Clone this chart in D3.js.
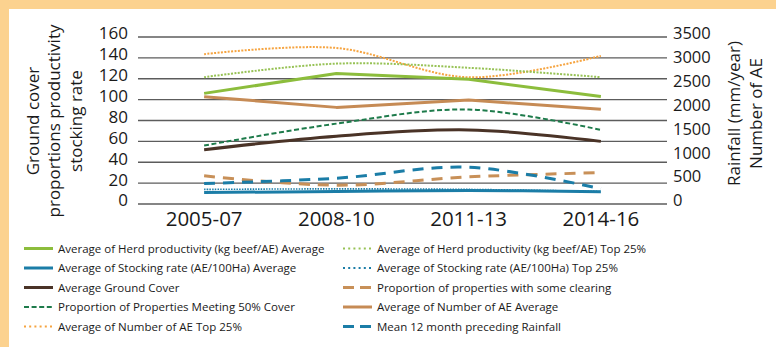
<!DOCTYPE html>
<html>
<head>
<meta charset="utf-8">
<script src="https://cdn.jsdelivr.net/npm/d3@7"></script>
<style>
  html, body { margin: 0; padding: 0; background: #fcd28f; }
  svg { display: block; font-family: "Open Sans", "Noto Sans", sans-serif; }
</style>
</head>
<body>
<svg id="chart" width="776" height="347"></svg>
<script>
// Periods on the x axis
const categories = ["2005-07", "2008-10", "2011-13", "2014-16"];

// Axis ticks
const leftTicks = [0, 20, 40, 60, 80, 100, 120, 140, 160];
const rightTicks = [0, 500, 1000, 1500, 2000, 2500, 3000, 3500];

// Left-axis series
const herdProdAvg   = [106, 125, 119.5, 103];
const herdProdTop   = [121.5, 134.5, 130.5, 121.5];
const stockRateAvg  = [11, 12, 13, 11.8];
const stockRateTop  = [14, 14.5, 14, 12];
const groundCover   = [52, 65, 71, 60];
const clearingProp  = [27, 18, 26, 30];
const coverProp     = [56, 77, 90.5, 71];

// Right-axis series
const aeAvg    = [2250, 2025, 2180, 1985];
const aeTop    = [3140, 3270, 2655, 3105];
const rainfall = [430, 540, 770, 320];

const svg = d3.select("#chart");

// white panel inside the peach frame
svg.append("rect").attr("x", 9).attr("y", 9).attr("width", 767).attr("height", 338).attr("fill", "#ffffff");

const plot = { left: 138, right: 667, top: 37, bottom: 204 };

const x = d3.scaleBand().domain(categories).range([plot.left, plot.right]).padding(0);
const xc = c => x(c) + x.bandwidth() / 2;
const yL = d3.scaleLinear().domain([0, 160]).range([plot.bottom, plot.top]);
const yR = d3.scaleLinear().domain([0, 3500]).range([plot.bottom, plot.top]);

// gridlines
svg.append("g").selectAll("line").data(leftTicks).join("line")
  .attr("x1", plot.left).attr("x2", plot.right)
  .attr("y1", d => yL(d)).attr("y2", d => yL(d))
  .attr("stroke", "#5c5c5c").attr("stroke-width", 1.4);

// left tick labels
svg.append("g").selectAll("text").data(leftTicks).join("text")
  .attr("x", 128).attr("y", d => yL(d) - 3.5).attr("dy", "0.35em")
  .attr("text-anchor", "end").attr("font-size", 17).attr("fill", "#1a1a1a")
  .text(d => d);

// right tick labels
svg.append("g").selectAll("text").data(rightTicks).join("text")
  .attr("x", 673).attr("y", d => yR(d) - 3.5).attr("dy", "0.35em")
  .attr("text-anchor", "start").attr("font-size", 16.5).attr("fill", "#1a1a1a")
  .text(d => d);

// category labels
svg.append("g").selectAll("text").data(categories).join("text")
  .attr("x", d => xc(d)).attr("y", 226)
  .attr("text-anchor", "middle").attr("font-size", 20.5).attr("fill", "#1a1a1a")
  .text(d => d);

// axis titles
const leftTitle = ["Ground cover", "proportions productivity", "stocking rate"];
const lt = svg.append("g").attr("transform", "translate(0,121) rotate(-90)");
lt.selectAll("text").data(leftTitle).join("text")
  .attr("x", 0).attr("y", (d, i) => 38.5 + i * 21.5)
  .attr("text-anchor", "middle").attr("font-size", 17).attr("fill", "#1a1a1a")
  .text(d => d);

const rightTitle = ["Rainfall (mm/year)", "Number of AE"];
const rt = svg.append("g").attr("transform", "translate(0,113.5) rotate(-90)");
rt.selectAll("text").data(rightTitle).join("text")
  .attr("x", 0).attr("y", (d, i) => 740 + i * 22)
  .attr("text-anchor", "middle").attr("font-size", 17).attr("fill", "#1a1a1a")
  .text(d => d);

// series definitions
const smooth = d3.curveCatmullRom.alpha(0);
const series = [
  { name: "Average of Herd productivity (kg beef/AE) Average", values: herdProdAvg, axis: "L", color: "#8cbd3c", width: 3, dash: null, curve: d3.curveLinear, legDash: null },
  { name: "Average of Herd productivity (kg beef/AE) Top 25%", values: herdProdTop, axis: "L", color: "#97c255", width: 2, dash: "2,1.4", curve: smooth, legDash: "2,3.2" },
  { name: "Average of Stocking rate (AE/100Ha) Average", values: stockRateAvg, axis: "L", color: "#1b7da7", width: 3, dash: null, curve: smooth, legDash: null },
  { name: "Average of Stocking rate (AE/100Ha) Top 25%", values: stockRateTop, axis: "L", color: "#1b7da7", width: 1.6, dash: "1.5,1.2", curve: smooth, legDash: "2,3.2" },
  { name: "Average Ground Cover", values: groundCover, axis: "L", color: "#4a3327", width: 3, dash: null, curve: smooth, legDash: null },
  { name: "Proportion of properties with some clearing", values: clearingProp, axis: "L", color: "#c89058", width: 3, dash: "11,8", curve: smooth, legDash: "11,6" },
  { name: "Proportion of Properties Meeting 50% Cover", values: coverProp, axis: "L", color: "#1e7b4b", width: 2, dash: "5,2.6", curve: smooth, legDash: "5,2.6" },
  { name: "Average of Number of AE Average", values: aeAvg, axis: "R", color: "#c68b55", width: 3, dash: null, curve: d3.curveLinear, legDash: null },
  { name: "Average of Number of AE Top 25%", values: aeTop, axis: "R", color: "#f6a440", width: 2, dash: "2,1.4", curve: smooth, legDash: "2,3.2" },
  { name: "Mean 12 month preceding Rainfall", values: rainfall, axis: "R", color: "#1b7da7", width: 3, dash: "11,8", curve: smooth, legDash: "11,6" }
];

// draw order: back to front
const drawOrder = [7, 8, 0, 1, 6, 4, 5, 9, 3, 2];
const lines = svg.append("g").attr("fill", "none");
drawOrder.forEach(i => {
  const s = series[i];
  const yScale = s.axis === "L" ? yL : yR;
  const gen = d3.line().x((d, j) => xc(categories[j])).y(d => yScale(d)).curve(s.curve);
  lines.append("path")
    .attr("d", gen(s.values))
    .attr("stroke", s.color).attr("stroke-width", s.width)
    .attr("stroke-dasharray", s.dash)
    .attr("stroke-linejoin", "round");
});

// legend: two columns, row-major
const legCols = [{ sx: 24, tx: 58 }, { sx: 343, tx: 377 }];
const legRow = d3.scaleLinear().domain([0, 4]).range([248.5, 326.5]);
const legend = svg.append("g");
series.forEach((s, i) => {
  const col = legCols[i % 2];
  const ry = legRow(Math.floor(i / 2));
  legend.append("line")
    .attr("x1", col.sx).attr("x2", col.sx + 29)
    .attr("y1", ry).attr("y2", ry)
    .attr("stroke", s.color).attr("stroke-width", s.width === 1.6 ? 2 : s.width)
    .attr("stroke-dasharray", s.legDash);
  legend.append("text")
    .attr("x", col.tx).attr("y", ry).attr("dy", "0.35em")
    .attr("font-size", 11.5).attr("fill", "#1a1a1a")
    .text(s.name);
});
</script>
</body>
</html>
